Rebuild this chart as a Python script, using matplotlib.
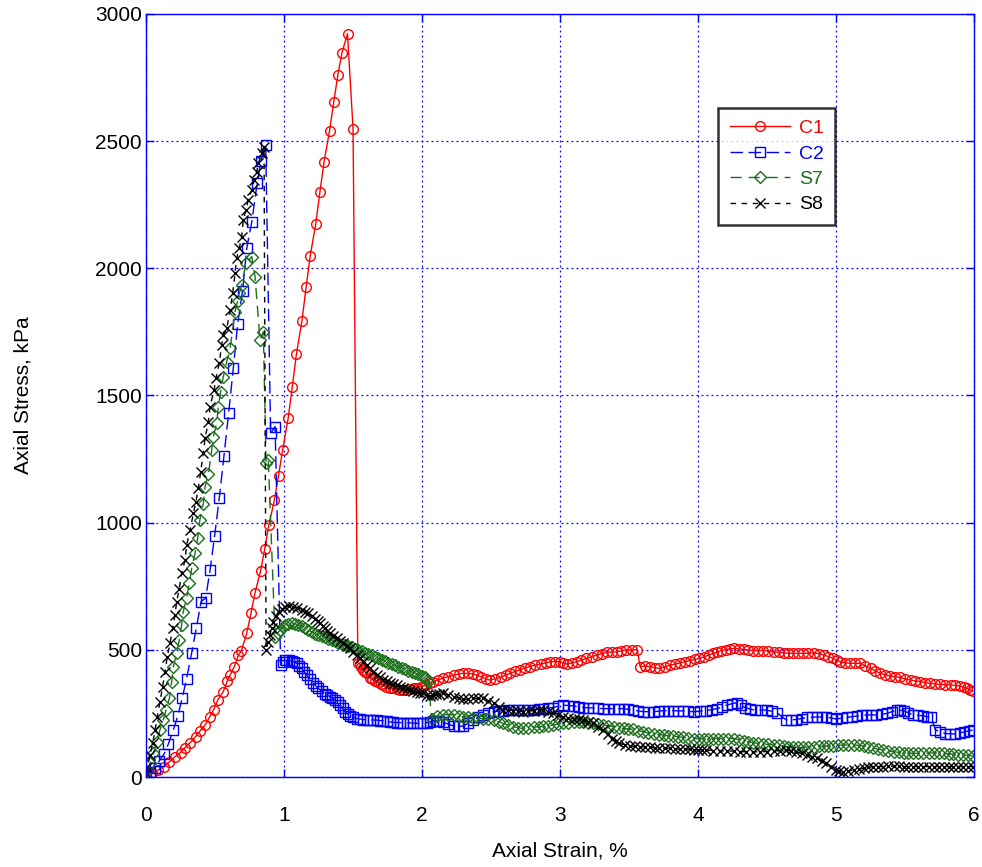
import matplotlib
matplotlib.use("Agg")
import matplotlib.pyplot as plt

plt.rcParams["font.family"] = ["Liberation Sans", "DejaVu Sans"]

# C1 - axial strain (%) and axial stress (kPa)
c1_strain = [0.00, 0.04, 0.09, 0.13, 0.17, 0.21, 0.25, 0.28, 0.32, 0.36, 0.39, 0.43, 0.46, 0.49, 0.52,
             0.56, 0.59, 0.61, 0.64, 0.67, 0.69, 0.73, 0.76, 0.79, 0.83, 0.86, 0.89, 0.93, 0.96, 0.99,
             1.03, 1.06, 1.09, 1.13, 1.16, 1.19, 1.23, 1.26, 1.29, 1.33, 1.36, 1.39, 1.42, 1.46, 1.50,
             1.535, 1.55, 1.56, 1.575, 1.59, 1.60, 1.62, 1.64, 1.66, 1.68, 1.70, 1.72, 1.74, 1.765,
             1.79, 1.815, 1.84, 1.865, 1.89, 1.915, 1.94, 1.965, 1.99, 2.01, 2.03, 2.055, 2.08, 2.115,
             2.15, 2.19, 2.23, 2.265, 2.30, 2.335, 2.37, 2.40, 2.43, 2.46, 2.49, 2.53, 2.57, 2.605,
             2.64, 2.675, 2.71, 2.745, 2.78, 2.82, 2.86, 2.895, 2.93, 2.965, 3.00, 3.025, 3.05, 3.085,
             3.12, 3.155, 3.19, 3.23, 3.27, 3.305, 3.34, 3.375, 3.41, 3.445, 3.48, 3.52, 3.56, 3.58,
             3.615, 3.65, 3.685, 3.72, 3.76, 3.80, 3.835, 3.87, 3.905, 3.94, 3.975, 4.01, 4.045, 4.08,
             4.11, 4.14, 4.17, 4.20, 4.23, 4.26, 4.295, 4.33, 4.365, 4.40, 4.435, 4.47, 4.51, 4.55,
             4.585, 4.62, 4.655, 4.69, 4.725, 4.76, 4.80, 4.84, 4.875, 4.91, 4.945, 4.98, 5.005, 5.03,
             5.065, 5.10, 5.135, 5.17, 5.21, 5.25, 5.285, 5.32, 5.355, 5.39, 5.425, 5.46, 5.50, 5.54,
             5.575, 5.61, 5.645, 5.68, 5.715, 5.75, 5.79, 5.83, 5.865, 5.90, 5.925, 5.95, 5.97, 5.99]
c1_stress = [5, 15, 28, 41, 60, 80, 96, 114, 135, 159, 180, 206, 235, 265, 303,
             336, 379, 402, 434, 480, 495, 565, 643, 725, 810, 897, 990, 1089, 1185, 1286,
             1410, 1535, 1664, 1794, 1925, 2050, 2175, 2300, 2418, 2541, 2653, 2760, 2848, 2922, 2549,
             449, 444, 432, 420, 413, 408, 391, 385, 379, 372, 366, 360, 355, 351,
             348, 345, 342, 341, 342, 345, 348, 351, 355, 358, 362, 368, 375, 382,
             388, 395, 401, 405, 408, 407, 405, 400, 394, 387, 381, 386, 392, 400,
             408, 415, 421, 428, 434, 440, 444, 449, 453, 454, 453, 448, 444, 448,
             453, 460, 466, 473, 480, 485, 490, 491, 492, 496, 499, 500, 501, 434,
             436, 434, 430, 427, 433, 440, 444, 449, 453, 458, 462, 466, 473, 480,
             486, 492, 497, 501, 504, 506, 504, 502, 499, 497, 497, 497, 495, 492,
             490, 488, 487, 486, 486, 486, 487, 488, 485, 480, 473, 466, 459, 453,
             449, 447, 447, 447, 437, 427, 417, 408, 402, 397, 394, 392, 386, 381,
             378, 375, 371, 368, 366, 364, 363, 362, 360, 358, 353, 348, 343, 338]

# C2
c2_strain = [0.00, 0.03, 0.065, 0.097, 0.13, 0.162, 0.198, 0.23, 0.263, 0.294, 0.33, 0.364, 0.399, 0.432,
             0.464, 0.497, 0.531, 0.565, 0.599, 0.633, 0.664, 0.70, 0.73, 0.766, 0.806, 0.831, 0.867,
             0.903, 0.935, 0.976, 0.995, 1.014, 1.035, 1.056, 1.074, 1.092, 1.11, 1.128, 1.146, 1.164,
             1.19, 1.213, 1.231, 1.249, 1.273, 1.297, 1.315, 1.333, 1.35, 1.37, 1.388, 1.406, 1.424,
             1.442, 1.46, 1.478, 1.50, 1.527, 1.55, 1.575, 1.60, 1.623, 1.648, 1.672, 1.696, 1.72,
             1.744, 1.768, 1.792, 1.816, 1.84, 1.865, 1.89, 1.913, 1.937, 1.961, 1.985, 2.01, 2.035,
             2.06, 2.08, 2.10, 2.125, 2.15, 2.19, 2.23, 2.265, 2.30, 2.335, 2.37, 2.405, 2.44, 2.48,
             2.52, 2.555, 2.59, 2.625, 2.66, 2.695, 2.73, 2.77, 2.81, 2.845, 2.88, 2.915, 2.95, 2.985,
             3.02, 3.06, 3.10, 3.135, 3.17, 3.205, 3.24, 3.275, 3.31, 3.35, 3.39, 3.425, 3.46, 3.495,
             3.53, 3.565, 3.60, 3.64, 3.68, 3.715, 3.75, 3.785, 3.82, 3.855, 3.89, 3.93, 3.97, 4.015,
             4.06, 4.10, 4.14, 4.175, 4.21, 4.245, 4.28, 4.31, 4.34, 4.375, 4.41, 4.455, 4.50, 4.535,
             4.57, 4.64, 4.675, 4.71, 4.75, 4.79, 4.825, 4.86, 4.895, 4.93, 4.965, 5.00, 5.04, 5.08,
             5.115, 5.15, 5.185, 5.22, 5.255, 5.29, 5.33, 5.37, 5.405, 5.44, 5.465, 5.49, 5.525, 5.56,
             5.595, 5.63, 5.66, 5.69, 5.72, 5.755, 5.79, 5.825, 5.86, 5.895, 5.93, 5.96, 5.99]
c2_stress = [8, 21, 34, 64, 90, 130, 185, 241, 312, 387, 486, 584, 690, 703,
             814, 948, 1098, 1263, 1433, 1610, 1781, 1912, 2079, 2182, 2337, 2420, 2485,
             1351, 1378, 440, 452, 460, 459, 457, 452, 447, 437, 427, 414, 401,
             384, 368, 358, 348, 338, 328, 322, 316, 310, 303, 293, 283, 270,
             257, 248, 240, 234, 230, 228, 226, 225, 224, 224, 224, 222, 221,
             219, 217, 215, 214, 214, 214, 213, 213, 212, 211, 211, 211, 214,
             217, 221, 222, 219, 217, 208, 200, 200, 200, 212, 224, 234, 244, 251,
             257, 259, 261, 262, 263, 263, 263, 264, 265, 267, 269, 271, 273, 278,
             283, 281, 279, 276, 273, 272, 272, 270, 269, 269, 269, 269, 269, 266,
             263, 260, 257, 257, 257, 259, 261, 261, 261, 260, 260, 258, 257, 259,
             261, 265, 269, 276, 283, 288, 292, 282, 273, 268, 263, 263, 263, 258,
             253, 224, 225, 226, 230, 234, 235, 236, 236, 236, 232, 228, 231, 234,
             237, 240, 242, 244, 244, 244, 247, 250, 257, 263, 262, 261, 252, 244,
             242, 241, 237, 234, 185, 178, 171, 170, 169, 173, 178, 181, 185]

# S7
s7_strain = [0.00, 0.029, 0.053, 0.077, 0.101, 0.125, 0.145, 0.169, 0.186, 0.198, 0.222, 0.241, 0.258,
             0.27, 0.294, 0.314, 0.331, 0.355, 0.374, 0.39, 0.415, 0.428, 0.452, 0.476, 0.488, 0.512,
             0.524, 0.541, 0.56, 0.585, 0.609, 0.645, 0.664, 0.676, 0.693, 0.725, 0.766,
             0.79, 0.826, 0.85, 0.87, 0.886, 0.935, 0.953, 0.971, 0.99, 1.007, 1.03, 1.056, 1.08,
             1.104, 1.128, 1.152, 1.176, 1.20, 1.225, 1.249, 1.273, 1.297, 1.32, 1.346, 1.37, 1.394,
             1.418, 1.442, 1.466, 1.49, 1.515, 1.539, 1.563, 1.587, 1.61, 1.636, 1.66, 1.684, 1.708,
             1.732, 1.756, 1.78, 1.805, 1.829, 1.853, 1.877, 1.90, 1.925, 1.95, 1.973, 2.0, 2.02,
             2.035, 2.046, 2.07, 2.11, 2.15, 2.19, 2.23, 2.265, 2.30, 2.335, 2.37, 2.405, 2.44, 2.48,
             2.52, 2.555, 2.59, 2.625, 2.66, 2.695, 2.73, 2.77, 2.81, 2.845, 2.88, 2.915, 2.95, 2.985,
             3.02, 3.06, 3.10, 3.135, 3.17, 3.205, 3.24, 3.275, 3.31, 3.35, 3.39, 3.425, 3.46, 3.495,
             3.53, 3.565, 3.60, 3.64, 3.68, 3.715, 3.75, 3.785, 3.82, 3.855, 3.89, 3.93, 3.97, 4.005,
             4.04, 4.075, 4.11, 4.145, 4.18, 4.22, 4.26, 4.295, 4.33, 4.365, 4.40, 4.435, 4.47, 4.51,
             4.55, 4.585, 4.62, 4.655, 4.69, 4.725, 4.76, 4.80, 4.84, 4.875, 4.91, 4.945, 4.98, 5.015,
             5.05, 5.09, 5.13, 5.165, 5.20, 5.235, 5.27, 5.305, 5.34, 5.38, 5.42, 5.455, 5.49, 5.525,
             5.56, 5.595, 5.63, 5.67, 5.71, 5.745, 5.78, 5.815, 5.85, 5.885, 5.92, 5.955, 5.99]
s7_stress = [21, 54, 93, 139, 185, 224, 263, 309, 375, 434, 486, 539, 598,
             650, 703, 761, 820, 880, 938, 1011, 1075, 1142, 1190, 1286, 1338, 1391,
             1456, 1515, 1574, 1633, 1685, 1830, 1872, 1902, 1935, 2020, 2046,
             1967, 1718, 1751, 1233, 1247, 552, 565, 578, 589, 598, 602, 604, 602,
             598, 592, 585, 578, 571, 564, 558, 553, 549, 544, 539, 533, 528,
             523, 519, 515, 512, 505, 499, 494, 489, 484, 480, 473, 466, 461,
             457, 450, 444, 439, 434, 428, 423, 418, 414, 409, 405, 398, 392,
             383, 375, 230, 238, 244, 245, 244, 240, 237, 235, 233, 231, 230, 227,
             224, 217, 211, 204, 198, 194, 191, 193, 195, 198, 200, 202, 204, 208,
             211, 214, 217, 218, 217, 214, 211, 207, 204, 201, 198, 194, 191, 189,
             187, 182, 178, 173, 169, 167, 165, 163, 161, 158, 156, 153, 151, 151,
             151, 151, 151, 151, 151, 151, 151, 147, 143, 139, 135, 132, 130, 128,
             126, 124, 122, 119, 117, 117, 117, 118, 119, 121, 122, 122, 122, 124,
             126, 126, 126, 124, 122, 117, 113, 109, 106, 102, 99, 97, 95, 94,
             93, 93, 93, 94, 95, 94, 93, 91, 90, 88, 87, 85, 83]

# S8
s8_strain = [0.00, 0.01, 0.029, 0.049, 0.065, 0.082, 0.101, 0.12, 0.138, 0.154, 0.174, 0.193, 0.21,
             0.222, 0.241, 0.258, 0.283, 0.294, 0.319, 0.343, 0.362, 0.379, 0.396, 0.415, 0.428, 0.452,
             0.464, 0.493, 0.507, 0.531, 0.548, 0.56, 0.585, 0.609, 0.628, 0.645, 0.657, 0.676, 0.693,
             0.705, 0.725, 0.741, 0.766, 0.785, 0.802, 0.814, 0.838, 0.855,
             0.87, 0.885, 0.899, 0.91, 0.922, 0.94, 0.96, 0.985, 1.007, 1.037, 1.067, 1.097, 1.128,
             1.152, 1.176, 1.20, 1.225, 1.243, 1.26, 1.28, 1.297, 1.315, 1.333, 1.358, 1.382, 1.406,
             1.43, 1.454, 1.478, 1.503, 1.527, 1.551, 1.575, 1.60, 1.623, 1.648, 1.672, 1.696, 1.72,
             1.744, 1.768, 1.792, 1.816, 1.84, 1.865, 1.89, 1.913, 1.937, 1.961, 1.985, 2.01, 2.034,
             2.058, 2.08, 2.10, 2.125, 2.15, 2.19, 2.23, 2.265, 2.30, 2.335, 2.37, 2.405, 2.44, 2.48,
             2.52, 2.555, 2.59, 2.625, 2.66, 2.695, 2.73, 2.77, 2.81, 2.845, 2.88, 2.915, 2.95, 2.985,
             3.02, 3.06, 3.10, 3.135, 3.17, 3.205, 3.24, 3.275, 3.31, 3.345, 3.38, 3.405, 3.43, 3.47,
             3.51, 3.545, 3.58, 3.615, 3.65, 3.685, 3.72, 3.76, 3.80, 3.835, 3.87, 3.905, 3.94, 3.97,
             4.00, 4.03, 4.06, 4.11, 4.16, 4.21, 4.26, 4.305, 4.35, 4.40, 4.45, 4.50, 4.55, 4.595,
             4.64, 4.675, 4.71, 4.75, 4.79, 4.825, 4.86, 4.895, 4.93, 4.965, 5.00, 5.025, 5.05, 5.09,
             5.13, 5.165, 5.20, 5.235, 5.27, 5.305, 5.34, 5.38, 5.42, 5.455, 5.49, 5.525, 5.56, 5.595,
             5.63, 5.67, 5.71, 5.745, 5.78, 5.815, 5.85, 5.885, 5.92, 5.955, 5.99]
s8_stress = [15, 41, 87, 132, 185, 237, 296, 355, 414, 473, 526, 584, 637,
             689, 741, 801, 853, 912, 971, 1036, 1083, 1135, 1200, 1273, 1332, 1397,
             1456, 1522, 1568, 1627, 1699, 1738, 1764, 1836, 1902, 1980, 2040, 2079, 2125,
             2190, 2230, 2269, 2308, 2348, 2380, 2413, 2452, 2478,
             501, 532, 560, 585, 610, 632, 650, 662, 670, 671, 670, 664, 657,
             650, 643, 633, 623, 614, 604, 594, 584, 575, 565, 555, 545, 536,
             526, 516, 506, 493, 480, 467, 453, 440, 427, 414, 401, 392, 383,
             377, 371, 366, 362, 355, 348, 345, 342, 338, 335, 332, 329, 324,
             319, 322, 325, 327, 329, 322, 316, 310, 305, 307, 309, 309, 309, 299,
             289, 277, 265, 263, 261, 259, 257, 259, 261, 262, 263, 256, 250, 243,
             237, 233, 230, 227, 224, 217, 211, 198, 185, 168, 151, 141, 132, 127,
             122, 120, 119, 118, 117, 115, 113, 113, 113, 111, 110, 110, 109, 107,
             106, 106, 106, 104, 103, 102, 102, 100, 99, 99, 99, 100, 102, 104,
             106, 102, 99, 93, 87, 80, 73, 64, 54, 41, 28, 24, 21, 24,
             28, 31, 34, 38, 41, 41, 41, 42, 43, 42, 41, 41, 41, 41,
             41, 41, 41, 41, 41, 41, 41, 41, 41, 41, 41]

blue = "#0000ff"
green = "#1c6e1c"

fig = plt.figure(figsize=(9.82, 8.67), dpi=100)
ax = fig.add_axes([0.1487, 0.1038, 0.8432, 0.8801])

ax.plot(c1_strain, c1_stress, color="red", lw=1.0, marker="o", ms=7, mfc="none", mew=1.0, label="C1")
ax.plot(c2_strain, c2_stress, color=blue, lw=1.0, ls=(0, (9, 4)), marker="s", ms=7.5, mfc="none",
        mew=1.0, label="C2")
ax.plot(s7_strain, s7_stress, color=green, lw=1.0, ls=(0, (8, 5)), marker="D", ms=6.3, mfc="none",
        mew=1.0, label="S7")
ax.plot(s8_strain, s8_stress, color="black", lw=1.0, ls=(0, (4, 4)), marker="x", ms=7.5, mew=1.0,
        label="S8")

ax.set_xlim(0, 6)
ax.set_ylim(0, 3000)
ax.set_xticks(range(0, 7))
ax.set_yticks(range(0, 3001, 500))
ax.grid(True, color=blue, ls=(0, (1.5, 2.5)), lw=0.9)
for sp in ax.spines.values():
    sp.set_color(blue)
    sp.set_linewidth(1.0)
ax.tick_params(direction="in", length=6, width=1, color=blue, top=True, right=True, labelsize=15)
ax.tick_params(axis="y", pad=3)
ax.tick_params(axis="x", pad=21)

ax.set_xlabel("Axial Strain, %", fontsize=15, labelpad=12)
ax.set_ylabel("Axial Stress, kPa", fontsize=15, labelpad=45)

leg = ax.legend(loc="upper left", bbox_to_anchor=(0.6908, 0.8768), borderaxespad=0, fontsize=14,
                frameon=True, fancybox=False, edgecolor="black", handlelength=3.1,
                handletextpad=0.45, labelspacing=0.4, borderpad=0.6)
leg.get_frame().set_linewidth(1.8)
for txt, col in zip(leg.get_texts(), ["red", blue, green, "black"]):
    txt.set_color(col)

fig.savefig("out.png", dpi=100)
